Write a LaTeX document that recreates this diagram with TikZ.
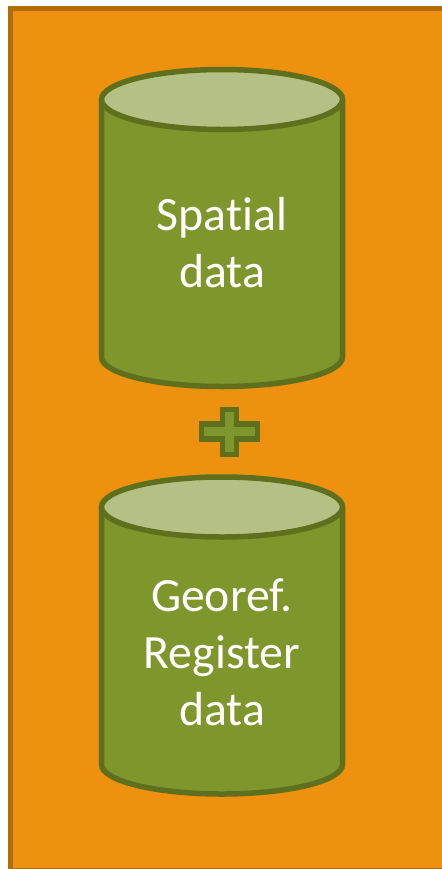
\documentclass[tikz,border=0pt]{standalone}
\usepackage{fontspec}
\setmainfont[Ligatures=NoCommon]{Carlito}
\definecolor{framefill}{HTML}{ED910F}
\definecolor{frameline}{HTML}{B06D08}
\definecolor{dbbody}{HTML}{7F962C}
\definecolor{dbtop}{HTML}{B3C184}
\definecolor{dbline}{HTML}{5E701E}
\tikzset{
	frame/.style={draw=frameline, fill=framefill, line width=0.1cm},
	db/.style={draw=dbline, fill=dbbody, line width=0.11cm},
	dbend/.style={draw=dbline, fill=dbtop, line width=0.11cm},
	dbtext/.style={text=white, align=center, font=\fontsize{27.2}{32.5}\selectfont},
	plus/.style={draw=dbline, fill=dbbody, line width=0.11cm}
}
\begin{document}
\begin{tikzpicture}[x=0.02cm, y=-0.02cm]
	\useasboundingbox (0,0) rectangle (441,869);
	\draw[frame] (10.5,8.5) rectangle (446,870);

	\foreach \ytop/\ybottom in {99.5/357, 507/764.5} {
		\draw[db] (101.5,\ytop) -- (101.5,\ybottom) arc[start angle=180, end angle=0, x radius=120.5, y radius=29.5] -- (342.5,\ytop);
		\draw[dbend] (222,\ytop) ellipse[x radius=120.5, y radius=30];
	}
	\node[dbtext] (spatial) at (222,243) {Spatial\\data};
	\node[dbtext] (register) at (222,652) {Georef.\\Register\\data};

	\draw[plus] (222.5,409.5) -- (236.5,409.5) -- (236.5,424) -- (257.5,424) -- (257.5,439) -- (236.5,439) -- (236.5,454.5) -- (222.5,454.5) -- (222.5,439) -- (201.5,439) -- (201.5,424) -- (222.5,424) -- cycle;
\end{tikzpicture}
\end{document}
